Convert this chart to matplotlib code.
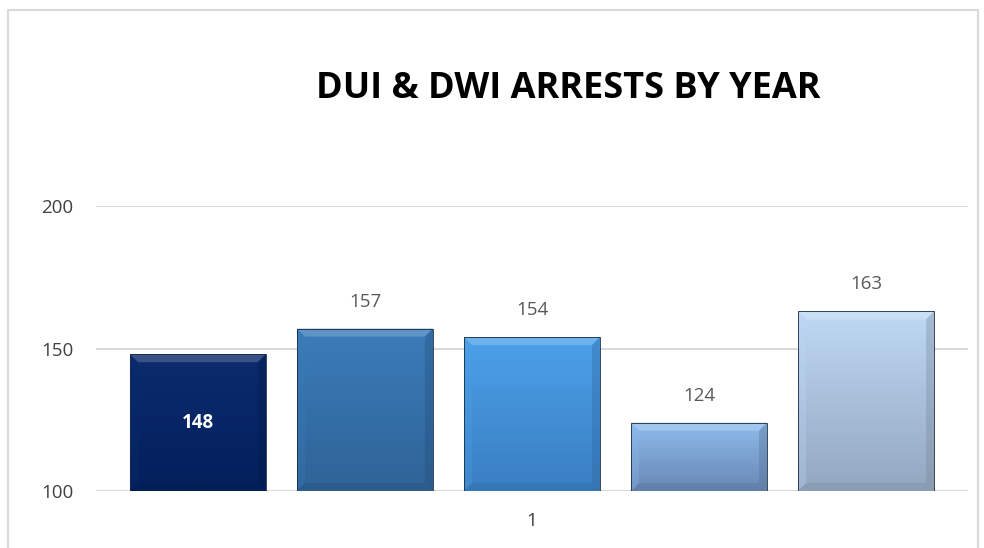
import numpy as np
import matplotlib
matplotlib.use("Agg")
import matplotlib.pyplot as plt
from matplotlib.patches import Rectangle, Polygon
from matplotlib.colors import to_rgb

title = "DUI & DWI ARRESTS BY YEAR"
category = "1"
values = [148, 157, 154, 124, 163]
top_colors = ["#0B2B6E", "#3B7CBA", "#4BA1E9", "#8EBBEC", "#BED8F5"]
bot_colors = ["#03205C", "#2E6396", "#3A7EC2", "#6888B5", "#94A7C0"]
yticks = [100, 150, 200]

plt.rcParams['font.family'] = ['Open Sans', 'DejaVu Sans']

fig = plt.figure(figsize=(9.84, 5.48), dpi=100)
fig.patch.set_facecolor("white")

# outer chart frame
frame = Rectangle((8/984, -0.05), (978-8)/984, 1.05 - 10/548, transform=fig.transFigure,
                  fill=False, edgecolor="#D9D9D9", lw=1.5)
fig.add_artist(frame)

ax = fig.add_axes([96/984, 1-491/548, (968-96)/984, (491-206)/548])
ax.set_xlim(-0.61, 4.61)
ax.set_ylim(100, 200)
for s in ax.spines.values():
    s.set_visible(False)
ax.set_yticks(yticks)
ax.set_yticklabels([str(t) for t in yticks], fontsize=13.5, color="#404040")
ax.tick_params(axis='y', length=0, pad=16.5)
ax.set_xticks([2])
ax.set_xticklabels([category], fontsize=13.5, color="#404040")
ax.tick_params(axis='x', length=0, pad=15)
for t in yticks:
    ax.axhline(t, color="#D9D9D9", lw=1.5, zorder=0)

width = 0.814
fig.canvas.draw()
# pixel-to-data scale for bevel size
inv = ax.transData.inverted()
p0 = inv.transform((0, 0)); p1 = inv.transform((8, 8)); p2 = inv.transform((0, 27))
bx, by = p1 - p0
lab_off = (p2 - p0)[1]

for i, v in enumerate(values):
    x0, x1 = i - width/2, i + width/2
    rect = Rectangle((x0, 100), width, v - 100, facecolor="none",
                     edgecolor="#1a2a40", lw=0.6, zorder=3)
    ax.add_patch(rect)
    c1 = np.array(to_rgb(top_colors[i])); c2 = np.array(to_rgb(bot_colors[i]))
    tt = np.linspace(0, 1, 64)[:, None]
    grad = (c1 * (1 - tt) + c2 * tt)[:, None, :]
    im = ax.imshow(grad, extent=(x0, x1, 100, v), aspect='auto', zorder=2,
                   interpolation='bilinear', origin='upper')
    im.set_clip_path(rect)
    # bevel: lighter top, darker bottom/sides
    light = np.clip(c1 + (1 - c1) * 0.25, 0, 1)
    ax.add_patch(Polygon([(x0, v), (x1, v), (x1 - bx, v - by), (x0 + bx, v - by)],
                         closed=True, facecolor=light, edgecolor="none", alpha=0.75, zorder=2.5))
    dark = c2 * 0.8
    ax.add_patch(Polygon([(x0, 100), (x1, 100), (x1 - bx, 100 + by), (x0 + bx, 100 + by)],
                         closed=True, facecolor=dark, edgecolor="none", alpha=0.3, zorder=2.5))
    ax.add_patch(Polygon([(x1, 100), (x1, v), (x1 - bx, v - by), (x1 - bx, 100 + by)],
                         closed=True, facecolor=dark, edgecolor="none", alpha=0.35, zorder=2.5))
    ax.add_patch(Polygon([(x0, 100), (x0, v), (x0 + bx, v - by), (x0 + bx, 100 + by)],
                         closed=True, facecolor=c1, edgecolor="none", alpha=0.3, zorder=2.5))
    if i == 0:
        ax.text(i, (100 + v) / 2, str(v), ha='center', va='center', fontsize=13.5,
                fontweight='bold', color='white', zorder=4)
    else:
        ax.text(i, v + lab_off, str(v), ha='center', va='center', fontsize=13.5,
                color='#595959', zorder=4, clip_on=False)

fig.text(568/984, 1 - 89/548, title, ha='center', va='center', fontsize=26,
         fontweight='bold', color='black')

fig.savefig("out.png", dpi=100, facecolor="white")
